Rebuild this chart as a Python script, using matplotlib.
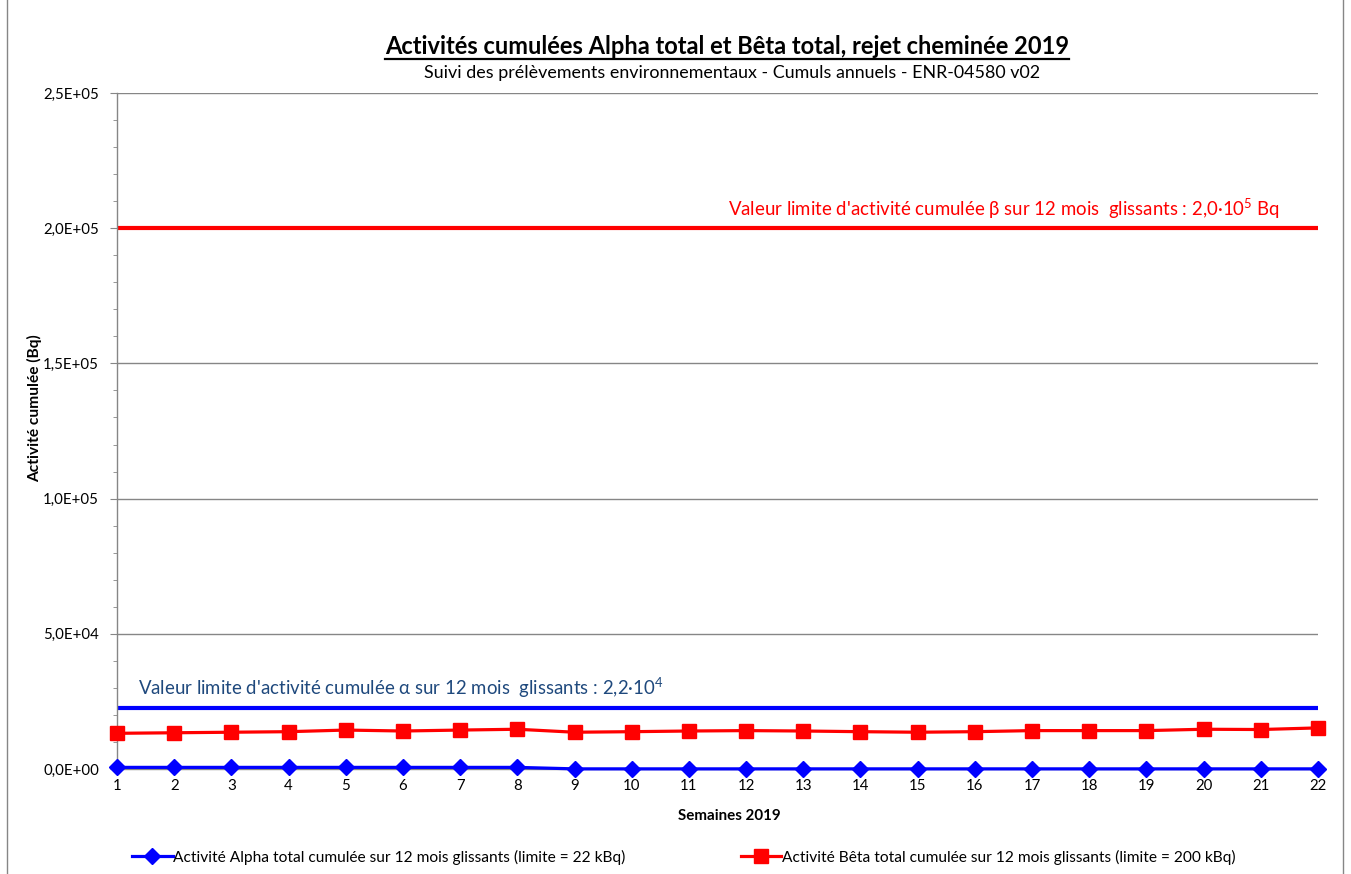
import matplotlib
matplotlib.use("Agg")
import matplotlib.pyplot as plt
from matplotlib.lines import Line2D
from matplotlib.ticker import MultipleLocator, FuncFormatter

weeks = list(range(1, 23))
alpha = [600, 600, 600, 600, 600, 600, 600, 600, 50, 50, 50, 50, 50, 50, 50, 50, 50, 50, 50, 50, 50, 50]
beta = [13200, 13400, 13600, 13800, 14400, 14050, 14400, 14700, 13600, 13800, 14050, 14200,
        14050, 13800, 13600, 13800, 14200, 14200, 14200, 14700, 14600, 15200]
alpha_limit = 22700
beta_limit = 200000
y_ticks = [0, 50000, 100000, 150000, 200000, 250000]

title = "Activités cumulées Alpha total et Bêta total, rejet cheminée 2019"
subtitle = "Suivi des prélèvements environnementaux - Cumuls annuels - ENR-04580 v02"
xlabel = "Semaines 2019"
ylabel = "Activité cumulée (Bq)"
alpha_label = "Activité Alpha total cumulée sur 12 mois glissants (limite = 22 kBq)"
beta_label = "Activité Bêta total cumulée sur 12 mois glissants (limite = 200 kBq)"
alpha_note = "Valeur limite d'activité cumulée α sur 12 mois  glissants : 2,2·10$^4$"
beta_note = "Valeur limite d'activité cumulée β sur 12 mois  glissants : 2,0·10$^5$ Bq"

FONT = ['Lato', 'DejaVu Sans']
plt.rcParams['font.family'] = FONT
plt.rcParams['mathtext.fontset'] = 'custom'
plt.rcParams['mathtext.rm'] = 'Lato'

W, H = 1351, 874
fig = plt.figure(figsize=(W / 100, H / 100), dpi=100)
ax = fig.add_axes([117 / W, 1 - 769 / H, (1318 - 117) / W, (769 - 93) / H])

grey = '#868686'
ax.set_xlim(1, 22)
ax.set_ylim(0, 250000)
ax.set_yticks(y_ticks)
ax.yaxis.set_minor_locator(MultipleLocator(10000))
ax.yaxis.set_major_formatter(FuncFormatter(lambda v, p: ("%.1E" % v).replace('.', ',')))
ax.set_xticks(weeks)
ax.grid(axis='y', which='major', color=grey, linewidth=1)
ax.set_axisbelow(True)
for s in ['top', 'right']:
    ax.spines[s].set_visible(False)
for s in ['left', 'bottom']:
    ax.spines[s].set_color(grey)
    ax.spines[s].set_linewidth(1)
ax.tick_params(axis='y', which='major', length=5, color=grey, labelsize=10.8, pad=8)
ax.tick_params(axis='y', which='minor', length=3, color=grey)
ax.tick_params(axis='x', which='major', length=0, labelsize=10.8, pad=7)

ax.axhline(beta_limit, color='#FF0000', linewidth=3, zorder=2)
ax.axhline(alpha_limit, color='#0000FF', linewidth=3, zorder=2)
ax.plot(weeks, beta, color='#FF0000', linewidth=2.3, marker='s', markersize=10, zorder=3, clip_on=False)
ax.plot(weeks, alpha, color='#0000FF', linewidth=2.3, marker='D', markersize=8, zorder=4, clip_on=False)

ax.text(1.37, 27500, alpha_note, color='#1F497D', fontsize=13.4, va='baseline', ha='left')
ax.text(21.33, 204500, beta_note, color='#FF0000', fontsize=13.4, va='baseline', ha='right')

ttl = fig.text(727 / W, 1 - 46 / H, title, fontsize=17, fontweight='bold', ha='center', va='center')
fig.text(732 / W, 1 - 73 / H, subtitle, fontsize=12.9, ha='center', va='center')
fig.text(729 / W, 1 - 816 / H, xlabel, fontsize=10.9, fontweight='bold', ha='center', va='center')
fig.text(35 / W, 1 - 408 / H, ylabel, fontsize=11.2, fontweight='bold', ha='center', va='center', rotation=90)

# underline title
fig.canvas.draw()
bb = ttl.get_window_extent()
fig.add_artist(Line2D([bb.x0 / W, bb.x1 / W], [(bb.y0 - 1) / H, (bb.y0 - 1) / H],
                      color='black', linewidth=1.6, transform=fig.transFigure))

# legend
h1 = Line2D([], [], color='#0000FF', linewidth=2.3, marker='D', markersize=8)
h2 = Line2D([], [], color='#FF0000', linewidth=2.3, marker='s', markersize=10)
fig.legend([h1, h2], [alpha_label, beta_label], loc='center', bbox_to_anchor=(684 / W, 1 - 857 / H),
           ncol=2, frameon=False, fontsize=11.2, handlelength=2.6, handletextpad=0.05, columnspacing=7.4)

# outer chart border
fig.add_artist(Line2D([7 / W, 7 / W], [0, 1], color=grey, linewidth=1, transform=fig.transFigure))
fig.add_artist(Line2D([1343 / W, 1343 / W], [0, 1], color=grey, linewidth=1, transform=fig.transFigure))

fig.savefig('out.png', dpi=100)
